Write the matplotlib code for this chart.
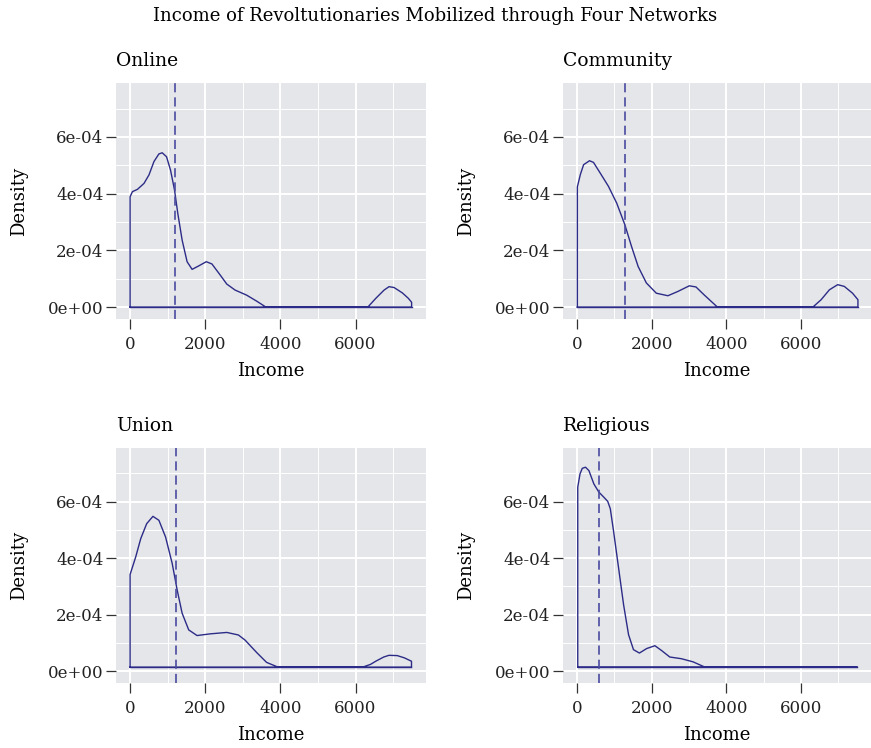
import matplotlib.pyplot as plt
from matplotlib.ticker import FixedLocator

plt.rcParams["font.family"] = ["DejaVu Serif"]

# income values (x) and density readings (y)
online_income = [0, 0, 63, 195, 370, 503, 635, 767, 855, 970, 1076, 1182, 1270, 1385, 1517,
                 1650, 1824, 2028, 2178, 2398, 2574, 2794, 3103, 3368, 3614, 6327, 6540,
                 6760, 6892, 7024, 7246, 7404, 7492, 7492]
online_density = [0, 3.89e-4, 4.07e-4, 4.15e-4, 4.36e-4, 4.66e-4, 5.13e-4, 5.40e-4, 5.44e-4,
                  5.30e-4, 4.83e-4, 4.13e-4, 3.30e-4, 2.36e-4, 1.60e-4, 1.33e-4, 1.45e-4,
                  1.60e-4, 1.52e-4, 1.13e-4, 0.81e-4, 0.60e-4, 0.42e-4, 0.21e-4, 0, 0, 0.31e-4,
                  0.60e-4, 0.72e-4, 0.69e-4, 0.50e-4, 0.31e-4, 0.17e-4, 0]

community_income = [10, 10, 89, 177, 336, 442, 619, 841, 1062, 1283, 1460, 1638, 1858, 2124,
                    2434, 2700, 3008, 3186, 3406, 3761, 6318, 6539, 6761, 6982, 7159, 7380,
                    7525, 7525]
community_density = [0, 4.24e-4, 4.67e-4, 5.02e-4, 5.16e-4, 5.10e-4, 4.73e-4, 4.26e-4, 3.67e-4,
                     2.90e-4, 2.14e-4, 1.43e-4, 0.85e-4, 0.49e-4, 0.40e-4, 0.55e-4, 0.75e-4,
                     0.71e-4, 0.43e-4, 0, 0, 0.26e-4, 0.61e-4, 0.79e-4, 0.73e-4, 0.49e-4,
                     0.26e-4, 0]

union_income = [0, 0, 151, 283, 441, 608, 767, 944, 1121, 1253, 1385, 1560, 1782, 2133, 2574,
                2882, 3059, 3368, 3632, 3939, 6185, 6400, 6537, 6750, 6890, 7110, 7300,
                7489, 7489]
union_density = [1.4e-5, 3.42e-4, 4.05e-4, 4.69e-4, 5.22e-4, 5.48e-4, 5.34e-4, 4.75e-4, 3.81e-4,
                 2.87e-4, 2.05e-4, 1.46e-4, 1.26e-4, 1.32e-4, 1.37e-4, 1.28e-4, 1.10e-4,
                 0.66e-4, 0.31e-4, 1.4e-5, 1.4e-5, 0.24e-4, 0.35e-4, 0.50e-4, 0.56e-4, 0.55e-4,
                 0.47e-4, 0.35e-4, 1.4e-5]

religious_income = [20, 20, 80, 141, 228, 319, 451, 584, 717, 823, 892, 982, 1115, 1248, 1381,
                    1513, 1672, 1866, 2087, 2265, 2485, 2795, 3106, 3414, 7500]
religious_density = [1.5e-5, 6.51e-4, 6.98e-4, 7.18e-4, 7.22e-4, 7.10e-4, 6.63e-4, 6.34e-4,
                     6.16e-4, 6.01e-4, 5.75e-4, 4.93e-4, 3.64e-4, 2.35e-4, 1.29e-4, 0.76e-4,
                     0.64e-4, 0.80e-4, 0.90e-4, 0.73e-4, 0.50e-4, 0.44e-4, 0.33e-4, 1.5e-5,
                     1.5e-5]

networks = ["Online", "Community", "Union", "Religious"]
baselines = [0, 0, 1.4e-5, 1.5e-5]
median_income = [1207, 1292, 1225, 602]

x_ticks = [0, 2000, 4000, 6000]
y_ticks = [0, 2e-4, 4e-4, 6e-4]
y_tick_labels = ["0e+00", "2e-04", "4e-04", "6e-04"]

curves = [
    (online_income, online_density),
    (community_income, community_density),
    (union_income, union_density),
    (religious_income, religious_density),
]

W, H = 871, 748
fig = plt.figure(figsize=(W / 100, H / 100), dpi=100)

# panel boxes in pixels: left, top, right, bottom
boxes = [(116, 83, 426, 319), (563, 83, 871, 319),
         (116, 448, 426, 683), (563, 448, 871, 683)]

line_col = "#2C2C88"
dash_col = "#4A4AA0"

for i, name in enumerate(networks):
    l, t, r, b = boxes[i]
    ax = fig.add_axes([l / W, 1 - b / H, (r - l) / W, (b - t) / H])
    ax.set_facecolor("#E5E6E9")
    for s in ax.spines.values():
        s.set_visible(False)

    xs, ys = curves[i]
    base = baselines[i]
    ax.plot(list(xs) + [xs[0]], list(ys) + [base], color=line_col, lw=1.0,
            solid_joinstyle="round", zorder=3)
    ax.plot([xs[0], xs[-1]], [base, base], color=line_col, lw=1.0, zorder=3)
    ax.axvline(median_income[i], color=dash_col, lw=1.2, dashes=(5.5, 3), zorder=4)

    ax.set_xlim(-375, 7875)
    ax.set_ylim(-0.42e-4, 7.9e-4)
    ax.set_xticks(x_ticks)
    ax.set_xticklabels([str(v) for v in x_ticks])
    ax.set_yticks(y_ticks)
    ax.set_yticklabels(y_tick_labels)
    ax.xaxis.set_minor_locator(FixedLocator([1000, 3000, 5000, 7000]))
    ax.yaxis.set_minor_locator(FixedLocator([1e-4, 3e-4, 5e-4, 7e-4]))
    ax.grid(True, which="major", color="white", lw=1.4)
    ax.grid(True, which="minor", color="white", lw=0.7)
    ax.set_axisbelow(True)
    ax.tick_params(which="major", length=7, width=0.9, color="#333333",
                   labelsize=12, labelcolor="#222222")
    ax.tick_params(axis="x", pad=5)
    ax.tick_params(axis="y", pad=2)
    ax.tick_params(which="minor", length=0)
    ax.set_xlabel("Income", fontsize=13, labelpad=7)
    ax.set_ylabel("Density", fontsize=13, labelpad=14)
    ax.set_title(name, fontsize=13.5, loc="left", pad=12)

fig.suptitle("Income of Revoltutionaries Mobilized through Four Networks",
             fontsize=13, x=0.5, y=0.99, va="top")

fig.savefig("out.png", dpi=100)
